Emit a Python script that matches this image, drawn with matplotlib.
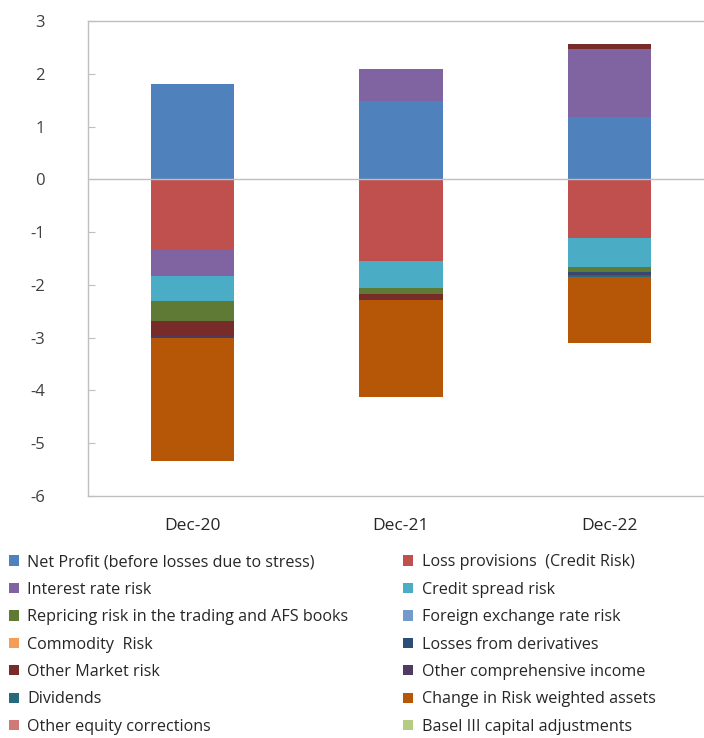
import numpy as np
import matplotlib.pyplot as plt

plt.rcParams['font.family'] = ['Open Sans', 'DejaVu Sans']
plt.rcParams['axes.unicode_minus'] = False

# Capital impact by component, stacked per period
periods = ['Dec-20', 'Dec-21', 'Dec-22']

series_names = [
    'Net Profit (before losses due to stress)',
    'Loss provisions  (Credit Risk)',
    'Interest rate risk',
    'Credit spread risk',
    'Repricing risk in the trading and AFS books',
    'Foreign exchange rate risk',
    'Commodity  Risk',
    'Losses from derivatives',
    'Other Market risk',
    'Other comprehensive income',
    'Dividends',
    'Change in Risk weighted assets',
    'Other equity corrections',
    'Basel III capital adjustments',
]

net_profit = [1.80, 1.49, 1.19]
loss_provisions = [-1.34, -1.55, -1.12]
interest_rate = [-0.49, 0.60, 1.28]
credit_spread = [-0.47, -0.50, -0.54]
repricing = [-0.39, -0.13, -0.09]
fx_risk = [0.0, 0.0, 0.0]
commodity = [0.0, 0.0, 0.0]
derivatives = [0.0, 0.0, -0.04]
other_market = [-0.27, -0.11, 0.09]
oci = [-0.05, 0.0, -0.03]
dividends = [0.0, 0.0, -0.03]
rwa_change = [-2.32, -1.84, -1.26]
other_equity = [0.0, 0.0, 0.0]
basel3 = [0.0, 0.0, 0.0]

values = [net_profit, loss_provisions, interest_rate, credit_spread, repricing,
          fx_risk, commodity, derivatives, other_market, oci, dividends,
          rwa_change, other_equity, basel3]

colors = ['#4F81BD', '#C0504D', '#8064A2', '#4BACC6', '#5E7A35',
          '#729ACA', '#F59D56', '#2C4D75', '#772C2A', '#4D3B62',
          '#276A7C', '#B65708', '#D07A78', '#B3CC82']

fig = plt.figure(figsize=(7.04, 7.38), dpi=100)
ax = fig.add_axes([88 / 704, 1 - 496 / 738, 626 / 704, 475 / 738])

x = np.arange(len(periods))
pos_base = np.zeros(len(periods))
neg_base = np.zeros(len(periods))
handles = []
for name, vals, col in zip(series_names, values, colors):
    vals = np.array(vals)
    bottom = np.where(vals >= 0, pos_base, neg_base)
    h = ax.bar(x, vals, width=0.40, bottom=bottom, color=col, label=name,
               linewidth=0, zorder=2)
    handles.append(h)
    pos_base = pos_base + np.clip(vals, 0, None)
    neg_base = neg_base + np.clip(vals, None, 0)

ax.axhline(0, color='#BFBFBF', lw=1.0, zorder=3)

ax.set_xlim(-0.5, 2.5)
ax.set_ylim(-6, 3)
ax.set_yticks(range(-6, 4))
ax.set_xticks(x)
ax.set_xticklabels(periods)

for side in ['left', 'bottom', 'top', 'right']:
    ax.spines[side].set_color('#BFBFBF')
    ax.spines[side].set_linewidth(1.0)

ax.tick_params(axis='y', direction='in', length=5, color='#BFBFBF',
               labelsize=12, labelcolor='#404040', pad=31)
ax.tick_params(axis='x', length=0, labelsize=12.5, labelcolor='#262626', pad=16)

# two-column legend, filled row by row
order = list(range(0, 14, 2)) + list(range(1, 14, 2))
fig.legend([handles[i] for i in order], [series_names[i] for i in order],
           ncol=2, loc='upper left', bbox_to_anchor=(0.008, 1 - 551 / 738),
           frameon=False, fontsize=11.6, handlelength=0.6, handleheight=0.6,
           handletextpad=0.55, labelspacing=0.71, columnspacing=3.4,
           borderaxespad=0, borderpad=0.2, labelcolor='#262626')

fig.savefig('out.png', dpi=100)
